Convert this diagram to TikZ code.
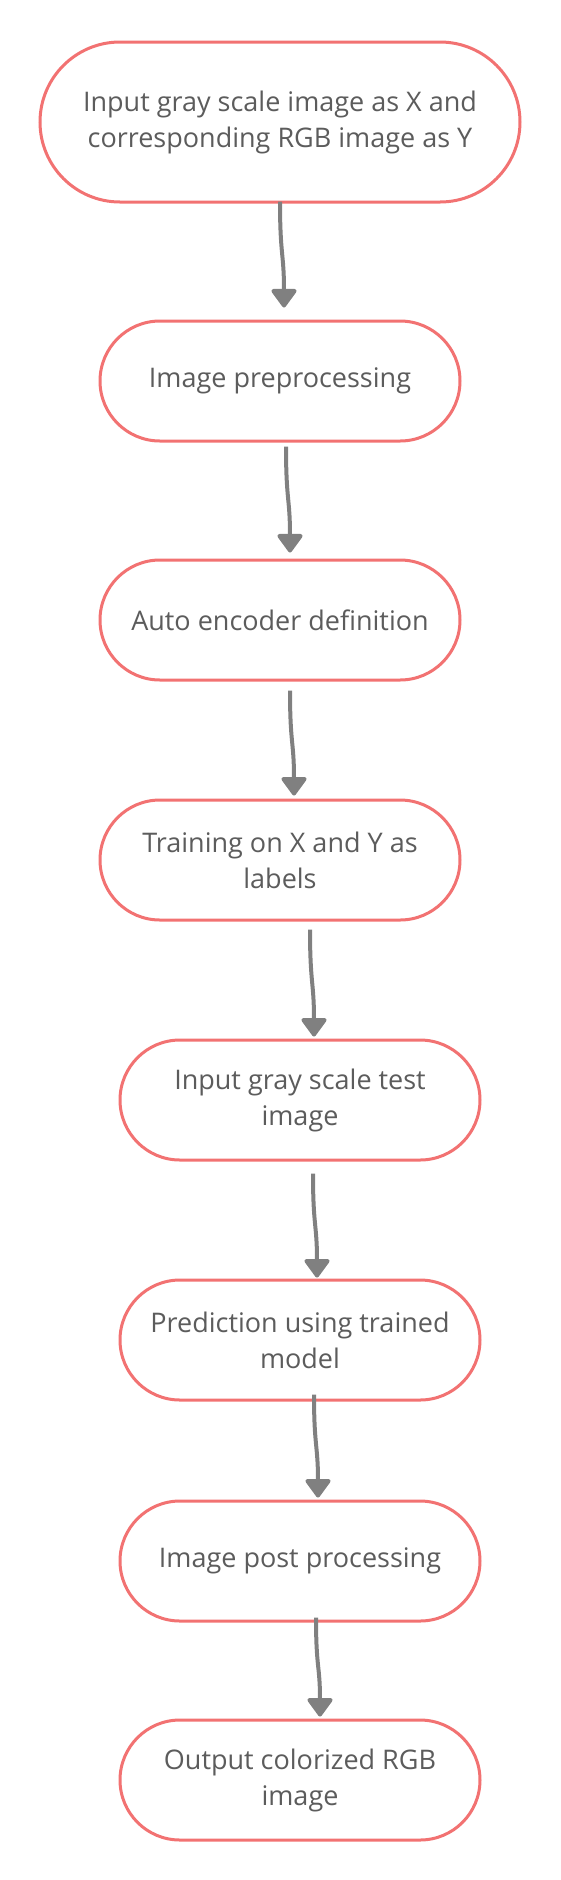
\documentclass[tikz,border=0pt]{standalone}
\usepackage{fontspec}
\setmainfont{Open Sans}
\usepackage{xcolor}
\definecolor{boxred}{RGB}{242,114,114}
\definecolor{arrowgray}{RGB}{128,128,128}
\definecolor{textgray}{RGB}{92,92,92}
\usepackage{tikz}
\usetikzlibrary{arrows.meta,calc}

\begin{document}
\begin{tikzpicture}[
  x=1pt, y=1pt,
  stage/.style={rectangle, draw=boxred, line width=3pt, fill=white,
                minimum width=360pt, minimum height=120pt, rounded corners=60pt,
                align=center, text=textgray,
                font=\fontsize{27pt}{36pt}\selectfont},
  bigstage/.style={stage, minimum width=480pt, minimum height=160pt,
                   rounded corners=80pt},
  flow/.style={arrowgray, line width=4pt,
               -{Triangle[length=20pt, width=28pt, round]}}
]
  \useasboundingbox (0,0) rectangle (560,-1880);

  % stages, top to bottom
  \node[bigstage] (input)   at (280, -122)  {Input gray scale image as X and\\corresponding RGB image as Y};
  \node[stage]    (prep)    at (280, -381)  {Image preprocessing};
  \node[stage]    (autoenc) at (280, -620)  {Auto encoder definition};
  \node[stage]    (train)   at (280, -860)  {Training on X and Y as\\labels};
  \node[stage]    (test)    at (300, -1100) {Input gray scale test\\image};
  \node[stage]    (predict) at (300, -1340) {Prediction using trained\\model};
  \node[stage]    (post)    at (300, -1561) {Image post processing};
  \node[stage]    (output)  at (300, -1780) {Output colorized RGB\\image};

  % hand-drawn looking connectors
  \draw[flow] ($(input.south)+(0,2)$) .. controls +(0,-54) and +(0,54) .. ($(prep.north)+(4,12)$);
  \draw[flow] ($(prep.south)+(6,-4)$) .. controls +(0,-54) and +(0,54) .. ($(autoenc.north)+(10,6)$);
  \draw[flow] ($(autoenc.south)+(10,-9)$) .. controls +(0,-54) and +(0,54) .. ($(train.north)+(14,3)$);
  \draw[flow] ($(train.south)+(30,-8)$) .. controls +(0,-54) and +(0,54) .. ($(test.north)+(14,2)$);
  \draw[flow] ($(test.south)+(13,-12)$) .. controls +(0,-53) and +(0,53) .. ($(predict.north)+(17,1)$);
  \draw[flow] ($(predict.south)+(14,7)$) .. controls +(0,-52) and +(0,52) .. ($(post.north)+(18,2)$);
  \draw[flow] ($(post.south)+(16,5)$) .. controls +(0,-51) and +(0,51) .. ($(output.north)+(20,2)$);
\end{tikzpicture}
\end{document}
